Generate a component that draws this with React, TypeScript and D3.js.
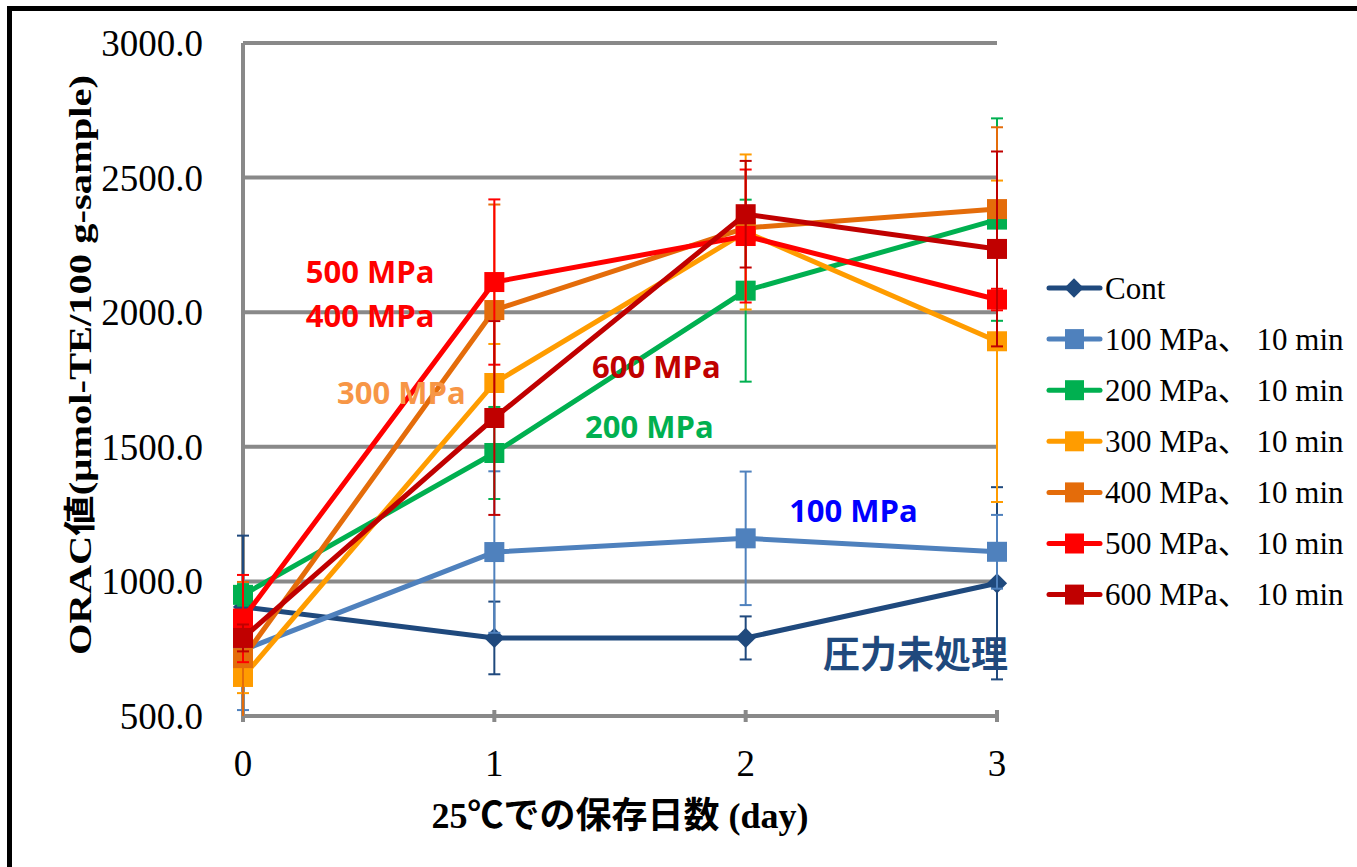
import { useEffect, useRef } from 'react';
import * as d3 from 'd3';

// storage days
const days = [0, 1, 2, 3];

const seriesNames = [
  'Cont',
  '100 MPa、 10 min',
  '200 MPa、 10 min',
  '300 MPa、 10 min',
  '400 MPa、 10 min',
  '500 MPa、 10 min',
  '600 MPa、 10 min',
];

const seriesColors = ['#1F497D', '#4F81BD', '#00B050', '#FF9C00', '#E46C0A', '#FF0000', '#C00000'];

// ORAC means per series (day 0..3)
const contValues = [905, 790, 790, 993];
const mpa100Values = [745, 1109, 1160, 1110];
const mpa200Values = [950, 1477, 2080, 2344];
const mpa300Values = [645, 1737, 2298, 1892];
const mpa400Values = [715, 2008, 2313, 2383];
const mpa500Values = [862, 2112, 2283, 2047];
const mpa600Values = [790, 1607, 2364, 2235];

// error bar half widths
const contErr = [265, 135, 80, 357];
const mpa100Err = [223, 300, 248, 137];
const mpa200Err = [40, 171, 338, 376];
const mpa300Err = [60, 145, 288, 597];
const mpa400Err = [283, 392, 60, 304];
const mpa500Err = [162, 307, 247, 40];
const mpa600Err = [50, 360, 198, 362];

const allValues = [contValues, mpa100Values, mpa200Values, mpa300Values, mpa400Values, mpa500Values, mpa600Values];
const allErrors = [contErr, mpa100Err, mpa200Err, mpa300Err, mpa400Err, mpa500Err, mpa600Err];

const yTicks = [500, 1000, 1500, 2000, 2500, 3000];

// annotation labels (anchor day, value at text middle)
const noteTexts = ['500 MPa', '400 MPa', '300 MPa', '600 MPa', '200 MPa', '100 MPa', '圧力未処理'];
const noteDays = [0.25, 0.25, 0.374, 1.389, 1.361, 2.173, 2.308];
const noteValues = [2149, 1986, 1700, 1796, 1574, 1262, 727];
const noteColors = ['#FF0000', '#FF0000', '#F79646', '#C00000', '#00B050', '#0000FF', '#1F497D'];

const ORACChart = () => {
  const svgRef = useRef<SVGSVGElement | null>(null);

  useEffect(() => {
    const width = 1357;
    const height = 867;

    const svg = d3.select(svgRef.current);
    svg.selectAll('*').remove();
    svg.attr('width', width).attr('height', height);

    svg.append('rect').attr('width', width).attr('height', height).attr('fill', 'white');

    // outer frame (right/bottom sides are cut off in the original)
    svg.append('rect')
      .attr('x', 9.5).attr('y', 8.5)
      .attr('width', width + 20).attr('height', height + 20)
      .attr('fill', 'none').attr('stroke', 'black').attr('stroke-width', 5);

    const x = d3.scaleLinear().domain([0, 3]).range([243, 997]);
    const y = d3.scaleLinear().domain([500, 3000]).range([716, 43]);

    const grid = svg.append('g');
    grid.selectAll('line.h')
      .data(yTicks)
      .enter()
      .append('line')
      .attr('x1', x(0)).attr('x2', x(3))
      .attr('y1', d => y(d)).attr('y2', d => y(d))
      .attr('stroke', '#898989').attr('stroke-width', 4);

    // y axis line
    grid.append('line')
      .attr('x1', x(0)).attr('x2', x(0))
      .attr('y1', y(3000)).attr('y2', y(500))
      .attr('stroke', '#898989').attr('stroke-width', 4);

    // small category ticks on x axis
    grid.selectAll('line.t')
      .data(days)
      .enter()
      .append('line')
      .attr('x1', d => x(d)).attr('x2', d => x(d))
      .attr('y1', y(500) - 6).attr('y2', y(500) + 6)
      .attr('stroke', '#898989').attr('stroke-width', 4);

    // tick labels
    svg.append('g').selectAll('text')
      .data(yTicks)
      .enter()
      .append('text')
      .attr('x', 203)
      .attr('y', d => y(d))
      .attr('dy', '0.35em')
      .attr('text-anchor', 'end')
      .style('font-family', '"Liberation Serif", "Times New Roman", serif')
      .style('font-size', '37px')
      .text(d => d3.format('.1f')(d));

    svg.append('g').selectAll('text')
      .data(days)
      .enter()
      .append('text')
      .attr('x', d => x(d))
      .attr('y', 763)
      .attr('dy', '0.35em')
      .attr('text-anchor', 'middle')
      .style('font-family', '"Liberation Serif", "Times New Roman", serif')
      .style('font-size', '37px')
      .text(d => String(d));

    // axis titles
    svg.append('text')
      .attr('x', 620)
      .attr('y', 815)
      .attr('dy', '0.35em')
      .attr('text-anchor', 'middle')
      .style('font-family', '"Liberation Serif", "Noto Sans CJK JP", serif')
      .style('font-weight', 'bold')
      .style('font-size', '36px')
      .text('25℃での保存日数 (day)');

    svg.append('text')
      .attr('transform', 'translate(80, 365) rotate(-90)')
      .attr('dy', '0.35em')
      .attr('text-anchor', 'middle')
      .attr('textLength', 580)
      .attr('lengthAdjust', 'spacingAndGlyphs')
      .style('font-family', '"Liberation Serif", "Noto Sans CJK JP", serif')
      .style('font-weight', 'bold')
      .style('font-size', '32px')
      .text('ORAC値(μmol-TE/100 g-sample)');

    const line = d3.line<number>()
      .x((_, i) => x(days[i]))
      .y(d => y(d));

    const clipY = (v: number) => Math.max(500, v);

    allValues.forEach((vals, s) => {
      const color = seriesColors[s];
      const errs = allErrors[s];
      const g = svg.append('g');

      // error bars
      vals.forEach((v, i) => {
        const top = y(v + errs[i]);
        const bot = y(clipY(v - errs[i]));
        g.append('line')
          .attr('x1', x(days[i])).attr('x2', x(days[i]))
          .attr('y1', top).attr('y2', bot)
          .attr('stroke', color).attr('stroke-width', 2);
        g.append('line')
          .attr('x1', x(days[i]) - 6).attr('x2', x(days[i]) + 6)
          .attr('y1', top).attr('y2', top)
          .attr('stroke', color).attr('stroke-width', 2);
        if (v - errs[i] >= 500) {
          g.append('line')
            .attr('x1', x(days[i]) - 6).attr('x2', x(days[i]) + 6)
            .attr('y1', bot).attr('y2', bot)
            .attr('stroke', color).attr('stroke-width', 2);
        }
      });

      g.append('path')
        .attr('d', line(vals) as string)
        .attr('fill', 'none')
        .attr('stroke', color)
        .attr('stroke-width', 5)
        .attr('stroke-linejoin', 'round');

      if (s === 0) {
        g.selectAll('path.m')
          .data(vals)
          .enter()
          .append('path')
          .attr('d', d3.symbol(d3.symbolDiamond2, 260)() as string)
          .attr('transform', (d, i) => `translate(${x(days[i])},${y(d)})`)
          .attr('fill', color);
      } else {
        g.selectAll('rect.m')
          .data(vals)
          .enter()
          .append('rect')
          .attr('x', (_, i) => x(days[i]) - 10)
          .attr('y', d => y(d) - 10)
          .attr('width', 20).attr('height', 20)
          .attr('fill', color);
      }
    });

    // in-plot labels
    svg.append('g').selectAll('text')
      .data(noteTexts)
      .enter()
      .append('text')
      .attr('x', (_, i) => x(noteDays[i]))
      .attr('y', (_, i) => y(noteValues[i]))
      .attr('dy', '0.35em')
      .attr('fill', (_, i) => noteColors[i])
      .style('font-family', (_, i) => i === 6 ? '"Noto Sans CJK JP", sans-serif' : '"Open Sans", "Noto Sans", sans-serif')
      .style('font-weight', 'bold')
      .style('font-size', (_, i) => i === 6 ? '37px' : '31px')
      .text(d => d);

    // legend
    const legend = svg.append('g').attr('transform', 'translate(1047, 288)');
    seriesNames.forEach((name, i) => {
      const row = legend.append('g').attr('transform', `translate(0, ${i * 51.1})`);
      row.append('line')
        .attr('x1', 2).attr('x2', 53)
        .attr('stroke', seriesColors[i]).attr('stroke-width', 5)
        .attr('stroke-linecap', 'round');
      if (i === 0) {
        row.append('path')
          .attr('d', d3.symbol(d3.symbolDiamond2, 240)() as string)
          .attr('transform', 'translate(27,0)')
          .attr('fill', seriesColors[i]);
      } else {
        row.append('rect')
          .attr('x', 18).attr('y', -10)
          .attr('width', 19).attr('height', 20)
          .attr('fill', seriesColors[i]);
      }
      row.append('text')
        .attr('x', 58)
        .attr('dy', '0.35em')
        .style('font-family', '"Liberation Serif", "Times New Roman", "Noto Sans CJK JP", serif')
        .style('font-size', '31px')
        .text(name);
    });
  }, []);

  return <svg ref={svgRef} style={{ position: 'absolute', left: 0, top: 0 }}></svg>;
};

export default function App() {
  return <ORACChart />;
}
